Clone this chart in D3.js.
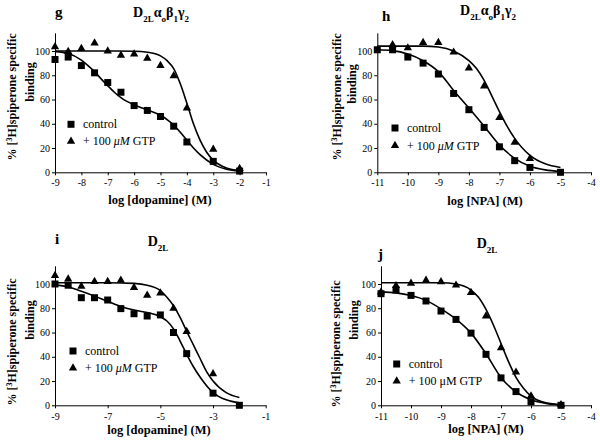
<!DOCTYPE html>
<html><head><meta charset="utf-8">
<script src="https://cdn.jsdelivr.net/npm/d3@7"></script>
<style>
body{margin:0;background:#fff}
svg text{font-family:'Liberation Serif','Times New Roman',serif;fill:#000}
</style>
</head><body><svg id="c" width="600" height="442"></svg>
<script>
// ---------- DATA ----------
// Panel g: dopamine, D2L αo β1 γ2
const gX = [-9,-8.5,-8,-7.5,-7,-6.5,-6,-5.5,-5,-4.5,-4,-3,-2];
const gControl = [93,95,88,82,74,66,55,51,46,38,25,9,1];
const gGTP = [103.5,99.5,102,106.5,100,96.5,97.5,94,88,79.5,53,19,3];
const gFitControlX = [-9,-8.5,-8,-7.75,-7.5,-7.25,-7,-6.75,-6.5,-6,-5.5,-5,-4.75,-4.5,-4.25,-4,-3.75,-3.5,-3,-2.5,-2];
const gFitControlY = [99.5,98,92.5,88,83,77,71.5,66,61.5,55.5,51.5,47,43.5,39,33,26.5,20,14.5,6.5,2.5,0.8];
const gFitGTPX = [-9,-8,-7,-6,-5.5,-5,-4.75,-4.5,-4.25,-4,-3.75,-3.5,-3.25,-3,-2.5,-2];
const gFitGTPY = [100,100,100,99.8,99,96,92,85.5,73,57,40,26.5,16.5,10,3.5,1.3];

// Panel h: NPA, D2L αo β1 γ2
const hControlX = [-11,-10.5,-10,-9.5,-9,-8.5,-8,-7.5,-7,-6.5,-6,-5];
const hControl = [101,101,95,90,81,65,51.6,37,21,9.6,4,0];
const hGTPX = [-10.5,-10,-9.5,-9,-8.5,-8,-7.5,-7,-6.5,-6];
const hGTP = [105,102.5,107,107,99,86,71,45,24.6,11.2];
const hFitControlX = [-11,-10.5,-10,-9.5,-9,-8.5,-8,-7.5,-7,-6.5,-6,-5.5,-5];
const hFitControlY = [101,100.3,97.5,92,83,67.5,53,38,22.5,11.5,5,2,0.8];
const hFitGTPX = [-11,-10,-9.5,-9,-8.5,-8,-7.75,-7.5,-7.25,-7,-6.75,-6.5,-6,-5.5,-5];
const hFitGTPY = [104,104,104,103.3,100,92,85.5,75.7,63,50,38,28,14,7,4];

// Panel i: dopamine, D2L
const iControlX = [-9,-8.5,-8,-7.5,-7,-6.5,-6,-5.5,-5,-4.5,-4,-3,-2];
const iControl = [100,99,88.7,88.7,86.8,79.7,75.5,73.6,74.5,60,42.6,10,0];
const iGTPX = [-9,-8.5,-8,-7.5,-7,-6.5,-6,-5.5,-5,-4.5,-4,-3];
const iGTP = [107,104,98,102,102,103,97,90.7,92.6,80,60.7,26];
const iFitControlX = [-9,-8.5,-8,-7.5,-7,-6.5,-6,-5.5,-5,-4.75,-4.5,-4.25,-4,-3.75,-3.5,-3,-2.5,-2];
const iFitControlY = [99.5,97.5,94,90,85.5,81.5,78.5,76.5,73,69.5,63,53,42,32,23.5,10.5,4.5,2];
const iFitGTPX = [-9,-8,-7,-6,-5.5,-5,-4.75,-4.5,-4.25,-4,-3.75,-3.5,-3.25,-3,-2.5,-2];
const iFitGTPY = [101,101,101,100.5,99,94.5,89,82,72.5,61,50,39,28,20,10.5,6.5];

// Panel j: NPA, D2L
const jX = [-11,-10.5,-10,-9.5,-9,-8.5,-8,-7.5,-7,-6.5,-6,-5];
const jControl = [92,95,90.6,86,77.7,70.8,59.5,42,22.6,11.3,3,0];
const jGTP = [93.4,98.6,100.5,103,101.8,99,93,73.6,47.4,27.3,7.7,0.5];
const jFitControlX = [-11,-10.5,-10,-9.5,-9,-8.5,-8,-7.5,-7,-6.5,-6,-5.5,-5];
const jFitControlY = [93.5,92.7,90.5,86.5,79.5,71,59.5,42.5,23,11,4.5,1.5,0.5];
const jFitGTPX = [-11,-10,-9,-8.5,-8,-7.75,-7.5,-7.25,-7,-6.75,-6.5,-6.25,-6,-5.5,-5];
const jFitGTPY = [101,101,101,100,95,89,79,66,51,36,23,14,7.5,2,0.5];

const yTicks = [0,20,40,60,80,100];
const dopamineTicksAll = [-9,-8,-7,-6,-5,-4,-3,-2,-1];
const dopamineTicksOdd = [-9,-7,-5,-3,-1];
const npaTicks = [-11,-10,-9,-8,-7,-6,-5,-4];
const legendLabels = ["control", "+ 100 μM GTP"];

// ---------- LAYOUT ----------
const zip = (xs, ys) => xs.map((x,i)=>({x, y: ys[i]}));
const panels = [
  {letter:"g", title:"full", xr:[55,266], yr:[172.3,32.8], xd:[-9,-1], ticks:dopamineTicksAll, xlabel:"log [dopamine] (M)", tpad:4,
   control: zip(gX,gControl), gtp: zip(gX,gGTP), fitC: zip(gFitControlX,gFitControlY), fitG: zip(gFitGTPX,gFitGTPY),
   letterPos:[55,17], titlePos:[161,17], xlabelPos:[160,204], yl1:[16,97], yl2:[34,82], leg:[71,124.3], legGap:17, legItalic:true},
  {letter:"h", title:"full", xr:[377.3,591], yr:[172.3,32.8], xd:[-11,-4], ticks:npaTicks, xlabel:"log [NPA] (M)", tpad:4,
   control: zip(hControlX,hControl), gtp: zip(hGTPX,hGTP), fitC: zip(hFitControlX,hFitControlY), fitG: zip(hFitGTPX,hFitGTPY),
   letterPos:[382,21], titlePos:[488,15], xlabelPos:[485,205], yl1:[341,97], yl2:[356,84], leg:[395,128], legGap:17.5, legItalic:true},
  {letter:"i", title:"short", xr:[55,265.7], yr:[405.3,265.8], xd:[-9,-1], ticks:dopamineTicksOdd, xlabel:"log [dopamine] (M)", tpad:5,
   control: zip(iControlX,iControl), gtp: zip(iGTPX,iGTP), fitC: zip(iFitControlX,iFitControlY), fitG: zip(iFitGTPX,iFitGTPY),
   letterPos:[55,244], titlePos:[158,246], xlabelPos:[159,434], yl1:[16,342], yl2:[34,320], leg:[73,351], legGap:17, legItalic:true},
  {letter:"j", title:"short", xr:[381,591], yr:[405.3,265.8], xd:[-11,-4], ticks:npaTicks, xlabel:"log [NPA] (M)", tpad:5,
   control: zip(jX,jControl), gtp: zip(jX,jGTP), fitC: zip(jFitControlX,jFitControlY), fitG: zip(jFitGTPX,jFitGTPY),
   letterPos:[378,259], titlePos:[487,248], xlabelPos:[486,433], yl1:[340,344], yl2:[358,320], leg:[396.7,364], legGap:17, legItalic:false}
];

const svg = d3.select("#c");
const sqSym = d3.symbol().type(d3.symbolSquare).size(49);
const triSym = d3.symbol().type(d3.symbolTriangle).size(30);

panels.forEach(p => {
  const g = svg.append("g");
  const x = d3.scaleLinear().domain(p.xd).range(p.xr);
  const y = d3.scaleLinear().domain([0,115]).range(p.yr);

  // axes
  const xa = g.append("g").attr("transform",`translate(0,${p.yr[0]})`)
    .call(d3.axisBottom(x).tickValues(p.ticks).tickSize(3).tickSizeOuter(0).tickPadding(p.tpad).tickFormat(d=>String(d)));
  const ya = g.append("g").attr("transform",`translate(${p.xr[0]},0)`)
    .call(d3.axisLeft(y).tickValues(yTicks).tickSize(3).tickSizeOuter(0).tickPadding(2).tickFormat(d=>String(d)));
  [xa,ya].forEach(a=>{
    a.selectAll("path,line").attr("stroke","#000").attr("stroke-width",1);
    a.selectAll("text").style("font-family","'Liberation Serif',serif").style("font-size","10px").attr("fill","#000");
  });

  // fitted curves
  const line = d3.line().x(d=>x(d.x)).y(d=>y(d.y)).curve(d3.curveMonotoneX);
  g.append("path").datum(p.fitC).attr("d",line).attr("fill","none").attr("stroke","#000").attr("stroke-width",1.6);
  g.append("path").datum(p.fitG).attr("d",line).attr("fill","none").attr("stroke","#000").attr("stroke-width",1.6);

  // points
  g.selectAll(".sq").data(p.control).join("path").attr("class","sq")
    .attr("transform",d=>`translate(${x(d.x)},${y(d.y)})`).attr("d",sqSym).attr("fill","#000");
  g.selectAll(".tri").data(p.gtp).join("path").attr("class","tri")
    .attr("transform",d=>`translate(${x(d.x)},${y(d.y)})`).attr("d",triSym).attr("fill","#000");

  // legend
  const [lx,ly] = p.leg;
  g.append("path").attr("transform",`translate(${lx},${ly})`).attr("d",sqSym).attr("fill","#000");
  g.append("path").attr("transform",`translate(${lx},${ly+p.legGap})`).attr("d",triSym).attr("fill","#000");
  g.append("text").attr("x",lx+12).attr("y",ly+4).style("font-size","12px").text(legendLabels[0]);
  const t2 = g.append("text").attr("x",lx+12).attr("y",ly+p.legGap+4).style("font-size","12px");
  t2.append("tspan").text("+ 100 ");
  t2.append("tspan").style("font-style", p.legItalic ? "italic" : "normal").text("μM");
  t2.append("tspan").text(" GTP");

  // x label
  g.append("text").attr("x",p.xlabelPos[0]).attr("y",p.xlabelPos[1]).attr("text-anchor","middle")
    .style("font-size","12.5px").style("font-weight","bold").text(p.xlabel);

  // y label
  const yl = g.append("text").attr("transform",`translate(${p.yl1[0]},${p.yl1[1]}) rotate(-90)`)
    .attr("text-anchor","middle").style("font-size","12px").style("font-weight","bold");
  yl.append("tspan").text("% [");
  yl.append("tspan").attr("baseline-shift","super").style("font-size","8px").text("3");
  yl.append("tspan").text("H]spiperone specific");
  g.append("text").attr("transform",`translate(${p.yl2[0]},${p.yl2[1]}) rotate(-90)`)
    .attr("text-anchor","middle").style("font-size","12px").style("font-weight","bold").text("binding");

  // panel letter
  g.append("text").attr("x",p.letterPos[0]).attr("y",p.letterPos[1])
    .style("font-size","15px").style("font-weight","bold").text(p.letter);

  // title
  const tt = g.append("text").attr("x",p.titlePos[0]).attr("y",p.titlePos[1]).attr("text-anchor","middle")
    .style("font-size","14px").style("font-weight","bold");
  const parts = p.title === "full"
    ? [["D",0],["2L",1],["α",0],["o",1],["β",0],["1",1],["γ",0],["2",1]]
    : [["D",0],["2L",1]];
  parts.forEach(([s,sub])=>{
    const ts = tt.append("tspan").text(s);
    if (sub) ts.attr("baseline-shift","sub").style("font-size","9px");
  });
});
</script>
</body></html>
